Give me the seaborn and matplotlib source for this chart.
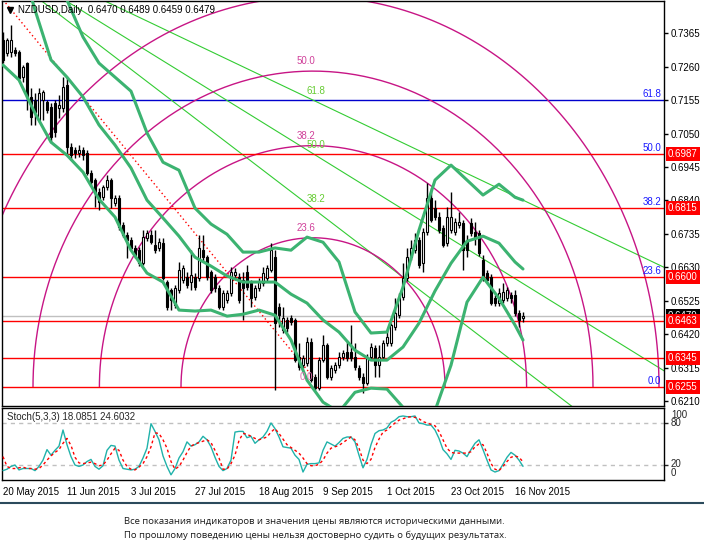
import numpy as np
import pandas as pd
import matplotlib
matplotlib.use('Agg')
import matplotlib.pyplot as plt
import matplotlib.transforms as mtrans
from matplotlib.lines import Line2D
import seaborn as sns

# ---- chart values ----
date_labels = ['20 May 2015', '11 Jun 2015', '3 Jul 2015', '27 Jul 2015', '18 Aug 2015',
               '9 Sep 2015', '1 Oct 2015', '23 Oct 2015', '16 Nov 2015']
date_bars = [0, 16, 32, 48, 64, 80, 96, 112, 128]

opens = [0.7343, 0.7303, 0.7306, 0.7312, 0.7306, 0.7227, 0.7271, 0.7165, 0.7155, 0.7092,
         0.7155, 0.7149, 0.7133, 0.7146, 0.7130, 0.7130, 0.7202, 0.7008, 0.6998, 0.6989,
         0.6998, 0.6989, 0.6926, 0.6904, 0.6866, 0.6851, 0.6882, 0.6904, 0.6832, 0.6847,
         0.6763, 0.6731, 0.6716, 0.6691, 0.6684, 0.6643, 0.6722, 0.6731, 0.6700, 0.6691,
         0.6706, 0.6584, 0.6559, 0.6512, 0.6559, 0.6590, 0.6600, 0.6584, 0.6600, 0.6596,
         0.6684, 0.6662, 0.6615, 0.6600, 0.6565, 0.6505, 0.6527, 0.6549, 0.6606, 0.6600,
         0.6590, 0.6615, 0.6581, 0.6537, 0.6565, 0.6581, 0.6596, 0.6622, 0.6662, 0.6505,
         0.6433, 0.6465, 0.6471, 0.6465, 0.6348, 0.6323, 0.6329, 0.6396, 0.6286, 0.6251,
         0.6339, 0.6386, 0.6286, 0.6308, 0.6323, 0.6348, 0.6364, 0.6364, 0.6348, 0.6314,
         0.6286, 0.6267, 0.6348, 0.6377, 0.6323, 0.6348, 0.6392, 0.6392, 0.6443, 0.6480,
         0.6537, 0.6596, 0.6662, 0.6684, 0.6716, 0.6643, 0.6741, 0.6847, 0.6816, 0.6788,
         0.6753, 0.6706, 0.6747, 0.6741, 0.6763, 0.6769, 0.6716, 0.6769, 0.6741, 0.6738,
         0.6653, 0.6612, 0.6600, 0.6534, 0.6518, 0.6527, 0.6534, 0.6543, 0.6543, 0.6486,
         0.6470]
highs = [0.7369, 0.7350, 0.7391, 0.7321, 0.7312, 0.7265, 0.7274, 0.7193, 0.7177, 0.7193,
         0.7187, 0.7155, 0.7146, 0.7155, 0.7171, 0.7227, 0.7227, 0.7020, 0.7008, 0.7014,
         0.7008, 0.6998, 0.6935, 0.6910, 0.6879, 0.6888, 0.6920, 0.6910, 0.6857, 0.6857,
         0.6772, 0.6741, 0.6725, 0.6700, 0.6694, 0.6747, 0.6747, 0.6747, 0.6747, 0.6722,
         0.6722, 0.6590, 0.6565, 0.6574, 0.6647, 0.6637, 0.6615, 0.6684, 0.6612, 0.6731,
         0.6731, 0.6669, 0.6622, 0.6609, 0.6574, 0.6559, 0.6559, 0.6631, 0.6628, 0.6612,
         0.6615, 0.6637, 0.6590, 0.6574, 0.6596, 0.6631, 0.6637, 0.6706, 0.6684, 0.6518,
         0.6505, 0.6474, 0.6480, 0.6471, 0.6392, 0.6355, 0.6411, 0.6408, 0.6295, 0.6348,
         0.6417, 0.6392, 0.6323, 0.6333, 0.6364, 0.6370, 0.6396, 0.6449, 0.6392, 0.6323,
         0.6298, 0.6358, 0.6392, 0.6386, 0.6386, 0.6402, 0.6433, 0.6455, 0.6534, 0.6549,
         0.6643, 0.6690, 0.6716, 0.6738, 0.6725, 0.6753, 0.6894, 0.6879, 0.6841, 0.6803,
         0.6763, 0.6819, 0.6866, 0.6785, 0.6803, 0.6778, 0.6731, 0.6785, 0.6772, 0.6747,
         0.6669, 0.6622, 0.6609, 0.6543, 0.6565, 0.6581, 0.6568, 0.6552, 0.6559, 0.6496,
         0.6489]
lows = [0.7272, 0.7293, 0.7290, 0.7293, 0.7218, 0.7212, 0.7124, 0.7077, 0.7077, 0.7086,
        0.7092, 0.7114, 0.7020, 0.7039, 0.7099, 0.7117, 0.6983, 0.6967, 0.6973, 0.6976,
        0.6967, 0.6920, 0.6888, 0.6819, 0.6810, 0.6841, 0.6873, 0.6816, 0.6822, 0.6747,
        0.6725, 0.6659, 0.6684, 0.6659, 0.6634, 0.6637, 0.6713, 0.6703, 0.6675, 0.6681,
        0.6590, 0.6496, 0.6496, 0.6502, 0.6549, 0.6581, 0.6565, 0.6559, 0.6559, 0.6587,
        0.6647, 0.6590, 0.6549, 0.6552, 0.6499, 0.6496, 0.6518, 0.6540, 0.6590, 0.6518,
        0.6465, 0.6559, 0.6505, 0.6527, 0.6556, 0.6571, 0.6587, 0.6615, 0.6245, 0.6443,
        0.6424, 0.6427, 0.6449, 0.6333, 0.6308, 0.6314, 0.6320, 0.6270, 0.6245, 0.6245,
        0.6333, 0.6279, 0.6276, 0.6298, 0.6314, 0.6339, 0.6336, 0.6336, 0.6308, 0.6276,
        0.6235, 0.6261, 0.6339, 0.6286, 0.6286, 0.6339, 0.6383, 0.6383, 0.6433, 0.6471,
        0.6527, 0.6587, 0.6653, 0.6675, 0.6628, 0.6615, 0.6731, 0.6772, 0.6778, 0.6738,
        0.6694, 0.6697, 0.6738, 0.6731, 0.6753, 0.6622, 0.6662, 0.6728, 0.6700, 0.6666,
        0.6587, 0.6581, 0.6512, 0.6509, 0.6509, 0.6518, 0.6524, 0.6518, 0.6477, 0.6443,
        0.6459]
closes = [0.7281, 0.7343, 0.7343, 0.7303, 0.7224, 0.7259, 0.7165, 0.7102, 0.7117, 0.7177,
          0.7180, 0.7124, 0.7039, 0.7055, 0.7139, 0.7196, 0.7008, 0.6983, 0.6989, 0.6998,
          0.6983, 0.6926, 0.6898, 0.6863, 0.6835, 0.6882, 0.6904, 0.6847, 0.6847, 0.6756,
          0.6731, 0.6716, 0.6691, 0.6669, 0.6643, 0.6725, 0.6738, 0.6709, 0.6684, 0.6709,
          0.6596, 0.6505, 0.6527, 0.6565, 0.6622, 0.6628, 0.6574, 0.6606, 0.6568, 0.6691,
          0.6662, 0.6600, 0.6559, 0.6565, 0.6505, 0.6549, 0.6549, 0.6615, 0.6615, 0.6527,
          0.6565, 0.6568, 0.6534, 0.6565, 0.6584, 0.6612, 0.6628, 0.6684, 0.6455, 0.6480,
          0.6471, 0.6440, 0.6458, 0.6339, 0.6317, 0.6345, 0.6396, 0.6276, 0.6251, 0.6339,
          0.6386, 0.6286, 0.6314, 0.6323, 0.6348, 0.6361, 0.6345, 0.6345, 0.6317, 0.6286,
          0.6267, 0.6348, 0.6380, 0.6323, 0.6348, 0.6392, 0.6411, 0.6449, 0.6486, 0.6537,
          0.6596, 0.6662, 0.6691, 0.6716, 0.6637, 0.6741, 0.6847, 0.6778, 0.6788, 0.6747,
          0.6700, 0.6788, 0.6788, 0.6772, 0.6772, 0.6684, 0.6684, 0.6738, 0.6725, 0.6675,
          0.6596, 0.6590, 0.6518, 0.6518, 0.6549, 0.6552, 0.6559, 0.6534, 0.6486, 0.6465,
          0.6479]

# bollinger-style bands, sampled every 4 bars
upper_bars = [12, 16, 20, 24, 28, 32, 36, 40, 44, 48, 52, 56, 60, 64, 68, 72, 76, 80, 84, 88,
              92, 96, 100, 104, 108, 112, 116, 120, 124, 128, 130]
upper_band = [0.7595, 0.7469, 0.7353, 0.7271, 0.7227, 0.7183, 0.7052, 0.6960, 0.6935, 0.6816,
              0.6766, 0.6734, 0.6678, 0.6678, 0.6691, 0.6684, 0.6725, 0.6709, 0.6647, 0.6490,
              0.6424, 0.6427, 0.6568, 0.6747, 0.6904, 0.6951, 0.6904, 0.6857, 0.6891, 0.6850, 0.6841]
mid_bars = [4, 8, 12, 16, 20, 24, 28, 32, 36, 40, 44, 48, 52, 56, 60, 64, 68, 72, 76, 80, 84,
            88, 92, 96, 100, 104, 108, 112, 116, 120, 124, 128, 130]
mid_band = [0.7610, 0.7438, 0.7281, 0.7227, 0.7165, 0.7077, 0.7014, 0.6942, 0.6841, 0.6785,
            0.6728, 0.6662, 0.6634, 0.6603, 0.6584, 0.6584, 0.6584, 0.6546, 0.6518, 0.6465,
            0.6427, 0.6370, 0.6339, 0.6339, 0.6380, 0.6455, 0.6556, 0.6643, 0.6712, 0.6728,
            0.6706, 0.6647, 0.6625]
lower_bars = [0, 4, 8, 12, 16, 20, 24, 28, 32, 36, 40, 44, 48, 52, 56, 60, 64, 68, 72, 76, 80,
              84, 88, 92, 96, 100, 104, 108, 112, 116, 120, 124, 128, 130]
lower_band = [0.7265, 0.7218, 0.7114, 0.7023, 0.6982, 0.6929, 0.6844, 0.6788, 0.6684, 0.6612,
              0.6584, 0.6496, 0.6493, 0.6496, 0.6477, 0.6483, 0.6496, 0.6480, 0.6402, 0.6276,
              0.6207, 0.6176, 0.6238, 0.6251, 0.6248, 0.6191, 0.6151, 0.6180, 0.6323, 0.6521,
              0.6599, 0.6533, 0.6449, 0.6402]

stoch_k = [12, 14, 18, 20, 13, 15, 15, 15, 12, 18,
           27, 42, 34, 41, 47, 70, 49, 32, 20, 18,
           20, 25, 28, 18, 14, 19, 41, 48, 47, 27,
           15, 14, 13, 14, 18, 30, 44, 79, 68, 56,
           33, 18, 6, 15, 30, 39, 53, 47, 49, 53,
           61, 56, 46, 31, 18, 12, 15, 27, 67, 68,
           68, 59, 61, 51, 56, 60, 68, 80, 72, 60,
           46, 45, 44, 34, 28, 10, 21, 22, 22, 23,
           41, 53, 50, 47, 52, 58, 60, 60, 53, 34,
           16, 28, 49, 65, 69, 70, 73, 81, 84, 89,
           90, 89, 89, 90, 80, 79, 77, 77, 70, 58,
           42, 36, 28, 41, 40, 37, 32, 42, 51, 56,
           42, 27, 13, 10, 12, 21, 31, 38, 34, 27,
           18.0851]
stoch_d = [32, 18, 15, 15, 16, 17, 15, 15, 14, 15,
           20, 27, 33, 38, 42, 51, 58, 48, 31, 23,
           22, 23, 24, 22, 19, 20, 27, 36, 44, 41,
           27, 18, 14, 13, 17, 22, 32, 46, 66, 65,
           56, 44, 25, 14, 18, 27, 38, 47, 50, 52,
           54, 56, 52, 41, 30, 14, 14, 22, 34, 55,
           65, 64, 61, 58, 56, 58, 60, 67, 72, 65,
           57, 49, 45, 41, 37, 30, 22, 19, 19, 21,
           27, 37, 44, 46, 48, 52, 56, 60, 56, 44,
           27, 22, 28, 45, 57, 67, 70, 75, 80, 84,
           86, 88, 89, 88, 86, 82, 80, 78, 76, 68,
           56, 44, 38, 37, 37, 37, 37, 39, 46, 50,
           49, 37, 22, 14, 12, 18, 25, 31, 33, 31,
           24.6032]

# objects on the chart
fib_levels = ['0.0', '23.6', '38.2', '50.0', '61.8']
fib_prices = [0.6255, 0.6600, 0.6815, 0.6987, 0.7155]
red_levels = [0.6987, 0.6815, 0.6600, 0.6463, 0.6345, 0.6255]
bid_price = 0.6479
fan_origin = (-16.5, 0.7717)
fan_anchor_bar = 77.5
fan_levels = ['38.2', '50.0', '61.8']
fan_prices = [0.6815, 0.6987, 0.7155]
arc_center = (77.5, 0.6255)
arc_levels = ['23.6', '38.2', '50.0', '61.8']
arc_rx = [33.0, 53.4, 70.0, 86.5]
arc_ry = [0.0468, 0.0757, 0.0991, 0.1225]
trend_start = (0, 0.7470)
trend_end = (77.5, 0.6286)
price_ticks = [0.7365, 0.7260, 0.7155, 0.7050, 0.6945, 0.6840, 0.6735, 0.6630,
               0.6525, 0.6420, 0.6315, 0.6210]

sns.set_style('white')
plt.rcParams['font.family'] = ['Liberation Sans', 'DejaVu Sans']

W, H = 704, 552
fig = plt.figure(figsize=(W / 100, H / 100), dpi=100)


def px_box(x0, y0, x1, y1):
    return [x0 / W, 1 - y1 / H, (x1 - x0) / W, (y1 - y0) / H]


ax = fig.add_axes(px_box(2, 1, 664, 406))
axs = fig.add_axes(px_box(2, 408, 664, 480))

bars = np.arange(len(closes))
o = np.array(opens)
c = np.array(closes)
hi = np.array(highs)
lo = np.array(lows)
up = c >= o

# horizontal objects (the fib lines that sit under a red line are hidden by it)
for p in fib_prices:
    if p not in red_levels:
        ax.axhline(p, color='#0000cd', lw=1, zorder=2)
for p in red_levels:
    ax.axhline(p, color='#ff0000', lw=1, zorder=2.2)
ax.axhline(bid_price, color='#c0c0c0', lw=1, zorder=2)

# fibonacci fan
x_far = 170
for p in fan_prices:
    slope = (p - fan_origin[1]) / (fan_anchor_bar - fan_origin[0])
    ax.plot([fan_origin[0], x_far], [fan_origin[1], fan_origin[1] + slope * (x_far - fan_origin[0])],
            color='#33cc33', lw=0.8, zorder=2)

# fibonacci arcs
theta = np.linspace(0, np.pi, 300)
for rx, ry in zip(arc_rx, arc_ry):
    ax.plot(arc_center[0] + rx * np.cos(theta), arc_center[1] + ry * np.sin(theta),
            color='#c71585', lw=1, zorder=2)

# trend line
ax.plot([trend_start[0], trend_end[0]], [trend_start[1], trend_end[1]], color='red',
        lw=1, linestyle=(0, (1, 2)), zorder=2)

# candles
ax.vlines(bars, lo, hi, color='black', lw=1, zorder=3)
body = np.maximum(np.abs(c - o), 0.00012)
ax.bar(bars, body, bottom=np.minimum(o, c), width=0.6,
       color=np.where(up, 'white', 'black'), edgecolor='black', linewidth=0.8, zorder=4)

# bands
bands = pd.concat([
    pd.DataFrame({'bar': upper_bars, 'price': upper_band, 'band': 'upper'}),
    pd.DataFrame({'bar': mid_bars, 'price': mid_band, 'band': 'mid'}),
    pd.DataFrame({'bar': lower_bars, 'price': lower_band, 'band': 'lower'}),
])
sns.lineplot(data=bands, x='bar', y='price', units='band', estimator=None, color='#3cb371',
             lw=2.2, ax=ax, zorder=5, legend=False)

ax.set_xlim(-0.25, 165.25)
ax.set_ylim(0.6195, 0.7466)
ax.set_xlabel('')
ax.set_ylabel('')
ax.set_xticks([])
ax.yaxis.tick_right()
ax.set_yticks(price_ticks)
ax.set_yticklabels([f'{p:.4f}' for p in price_ticks])
ax.tick_params(axis='y', length=3, width=1, pad=2, labelsize=7, colors='black')

lift = mtrans.offset_copy(ax.transData, fig=fig, x=0, y=3, units='dots')
for name, p in zip(fib_levels, fib_prices):
    ax.text(164.6, p, name, color='#1a1aff', fontsize=7, ha='right', va='baseline',
            transform=lift, zorder=6)
for name, p in zip(fan_levels, fan_prices):
    ax.text(78.3, p, name, color='#66cc33', fontsize=7, ha='center', va='baseline',
            transform=mtrans.offset_copy(ax.transData, fig=fig, x=0, y=6, units='dots'), zorder=6)
# the 61.8 arc peaks above the visible price range, so its label is off the chart
for name, ry in zip(arc_levels[:3], arc_ry[:3]):
    ax.text(75.8, arc_center[1] + ry, name, color='#d0409a', fontsize=7, ha='center',
            va='baseline', transform=mtrans.offset_copy(ax.transData, fig=fig, x=0, y=7, units='dots'),
            zorder=6)
ax.text(75.8, arc_center[1], '0.0', color='#e070b0', fontsize=7, ha='center', va='baseline',
        transform=mtrans.offset_copy(ax.transData, fig=fig, x=0, y=7, units='dots'), zorder=6)

# price boxes on the right scale
box_tr = mtrans.blended_transform_factory(ax.transAxes, ax.transData)
ax.text(1.0 + 4 / 662, bid_price, f'{bid_price:.4f}', color='white', fontsize=7, va='center',
        ha='left', transform=box_tr, clip_on=False, zorder=7,
        bbox=dict(boxstyle='square,pad=0.2', fc='black', ec='none'))
for p in red_levels:
    ax.text(1.0 + 4 / 662, p, f'{p:.4f}', color='white', fontsize=7, va='center', ha='left',
            transform=box_tr, clip_on=False, zorder=8,
            bbox=dict(boxstyle='square,pad=0.2', fc='#ff0000', ec='none'))

ax.text(16 / 662, 1 - 9 / 405, 'NZDUSD,Daily  0.6470 0.6489 0.6459 0.6479', transform=ax.transAxes,
        fontsize=7, va='center', ha='left', color='black', zorder=8)
ax.plot([8 / 662], [1 - 9 / 405], marker='v', ms=4, color='black', transform=ax.transAxes,
        clip_on=False, zorder=8)

# stochastic
stoch = pd.DataFrame({'bar': bars, 'k': stoch_k, 'd': stoch_d})
for lvl in (20, 80):
    axs.axhline(lvl, color='#c0c0c0', lw=1, linestyle=(0, (3, 3)), zorder=1)
sns.lineplot(data=stoch, x='bar', y='k', color='#20b2aa', lw=1, ax=axs, zorder=3)
sns.lineplot(data=stoch, x='bar', y='d', color='red', lw=1, linestyle=(0, (2, 2)), ax=axs, zorder=4)
axs.set_xlim(-0.25, 165.25)
axs.set_ylim(-1.4, 101.4)
axs.set_xlabel('')
axs.set_ylabel('')
axs.yaxis.tick_right()
axs.set_yticks([20, 80])
axs.set_yticklabels([])
axs.tick_params(axis='y', length=3, width=1)
for txt, v in [('100', 91.4), ('80', 80), ('20', 21), ('0', 8.6)]:
    axs.text(1.0 + 7 / 662, v, txt, transform=mtrans.blended_transform_factory(axs.transAxes, axs.transData),
             fontsize=7, va='center', ha='left', clip_on=False)
axs.set_xticks(date_bars)
axs.set_xticklabels(date_labels, ha='left')
axs.tick_params(axis='x', length=3, width=1, pad=2, labelsize=7, colors='black')
axs.text(5 / 662, 0.875, 'Stoch(5,3,3) 18.0851 24.6032', transform=axs.transAxes, fontsize=7,
         va='center', ha='left')

for a in (ax, axs):
    for s in a.spines.values():
        s.set_color('black')
        s.set_linewidth(1)

# footer
fig.add_artist(Line2D([0, 1], [1 - 503 / H, 1 - 503 / H], color='#2b4a5c', lw=1.5))
fig.text(124 / W, 1 - 522 / H, 'Все показания индикаторов и значения цены являются историческими данными.',
         fontsize=6.8, family=['Open Sans', 'DejaVu Sans'], va='center', ha='left', color='#1a1a1a')
fig.text(124 / W, 1 - 535 / H, 'По прошлому поведению цены нельзя достоверно судить о будущих результатах.',
         fontsize=6.8, family=['Open Sans', 'DejaVu Sans'], va='center', ha='left', color='#1a1a1a')

fig.savefig('out.png', dpi=100)
